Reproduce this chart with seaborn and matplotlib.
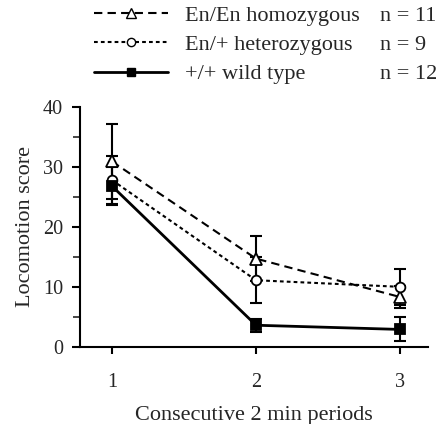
import pandas as pd
import seaborn as sns
import matplotlib.pyplot as plt
from matplotlib.lines import Line2D
from matplotlib.ticker import MultipleLocator

sns.set_style("ticks")
plt.rcParams['font.family'] = ['Liberation Serif', 'DejaVu Serif']

# data
periods = [1, 2, 3]
homo_mean = [30.9, 14.7, 8.3]
homo_err = [6.3, 3.8, 1.8]
het_mean = [27.8, 11.1, 10.0]
het_err = [4.0, 3.8, 3.0]
wt_mean = [26.8, 3.6, 2.9]
wt_err = [3.2, 1.1, 2.0]

groups = ["En/En homozygous", "En/+ heterozygous", "+/+ wild type"]
n_labels = ["n = 11", "n = 9", "n = 12"]

df = pd.DataFrame({
    "period": periods * 3,
    "score": homo_mean + het_mean + wt_mean,
    "err": homo_err + het_err + wt_err,
    "group": [g for g in groups for _ in periods],
})

styles = {
    "En/En homozygous": dict(ls=(0, (4, 2.5)), marker="^", mfc="white", ms=9, lw=1.5),
    "En/+ heterozygous": dict(ls=(0, (1.8, 1.5)), marker="o", mfc="white", ms=7, lw=1.5),
    "+/+ wild type": dict(ls="-", marker="s", mfc="black", ms=7, lw=2.0),
}

fig = plt.figure(figsize=(4.41, 4.24), dpi=100)
ax = fig.add_axes([0.181, 0.182, 0.79, 0.566])

for g in groups:
    sub = df[df["group"] == g]
    st = styles[g]
    ax.errorbar(sub["period"], sub["score"], yerr=sub["err"], fmt="none",
                ecolor="black", elinewidth=1.5, capsize=4, capthick=1.5, zorder=2)
    sns.lineplot(data=sub, x="period", y="score", ax=ax, color="black",
                 linestyle=st["ls"], linewidth=st["lw"], marker=st["marker"],
                 markersize=st["ms"], markerfacecolor=st["mfc"],
                 markeredgecolor="black", markeredgewidth=1.3, zorder=3)

ax.set_xlim(0.777, 3.195)
ax.set_ylim(0, 40)
ax.set_xticks(periods)
ax.yaxis.set_major_locator(MultipleLocator(10))
ax.yaxis.set_minor_locator(MultipleLocator(5))
ax.tick_params(axis="both", which="major", labelsize=14.5, width=1.5, color="black")
ax.tick_params(axis="y", which="major", length=6, pad=6)
ax.tick_params(axis="y", which="minor", length=5, width=1.2)
ax.tick_params(axis="x", which="major", length=5, pad=14)
for s in ["top", "right"]:
    ax.spines[s].set_visible(False)
for s in ["left", "bottom"]:
    ax.spines[s].set_linewidth(1.5)
    ax.spines[s].set_color("black")
ax.set_xlabel("Consecutive 2 min periods", fontsize=16, labelpad=10)
ax.set_ylabel("Locomotion score", fontsize=16, labelpad=6)

handles = [Line2D([], [], color="black", linestyle=styles[g]["ls"],
                  linewidth=styles[g]["lw"], marker=styles[g]["marker"],
                  markersize=styles[g]["ms"] * 0.85, markerfacecolor=styles[g]["mfc"],
                  markeredgecolor="black") for g in groups]
fig.legend(handles, groups, loc="upper left", bbox_to_anchor=(0.179, 1.025),
           frameon=False, fontsize=16, handlelength=3.3, handletextpad=0.77,
           labelspacing=0.4, numpoints=1, borderpad=0.2)
blank = [Line2D([], [], alpha=0) for _ in n_labels]
fig.legend(blank, n_labels, loc="upper left", bbox_to_anchor=(0.826, 1.025),
           frameon=False, fontsize=16, handlelength=0, handletextpad=0,
           labelspacing=0.4, borderpad=0.2)

fig.savefig("out.png", dpi=100)
